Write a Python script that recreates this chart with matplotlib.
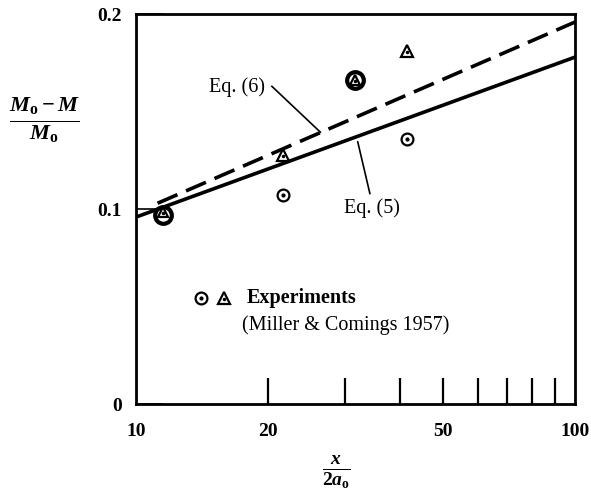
#!/usr/bin/env python3
import matplotlib
matplotlib.use("Agg")
import matplotlib.pyplot as plt
from matplotlib.ticker import FixedLocator, NullFormatter, FixedFormatter

# experiments (Miller & Comings 1957)
CIRCLE_X = [11.5, 21.6, 31.5, 41.4]
CIRCLE_Y = [0.097, 0.107, 0.166, 0.136]
TRI_X = [11.5, 21.6, 31.5, 41.4]
TRI_Y = [0.0985, 0.128, 0.166, 0.181]

# theory lines (straight in log x)
EQ5_X = [10, 100]
EQ5_Y = [0.0959, 0.178]
EQ6_X = [11.2, 100]
EQ6_Y = [0.103, 0.196]

XTICK_LABELS = [10, 20, 50, 100]
XTICK_MARKS = [20, 30, 40, 50, 60, 70, 80, 90]
YTICKS = [0, 0.1, 0.2]

plt.rcParams.update({
    "font.family": "Liberation Serif",
    "font.weight": "bold",
    "font.size": 14,
    "mathtext.fontset": "custom",
    "mathtext.it": "Liberation Serif:italic:bold",
    "mathtext.rm": "Liberation Serif:bold",
    "mathtext.bf": "Liberation Serif:bold",
})

fig = plt.figure(figsize=(5.91, 5.01), dpi=100)
ax = fig.add_axes([0.230, 0.1936, 0.743, 0.778])
ax.set_xscale("log")
ax.set_xlim(10, 100)
ax.set_ylim(0, 0.2)

ax.plot(EQ5_X, EQ5_Y, color="black", lw=2.6, solid_capstyle="butt")
ax.plot(EQ6_X, EQ6_Y, color="black", lw=2.6, dashes=(6, 2.6))

# data markers; the two overlapping points get a heavy circle
big = [0, 2]
for i, (x, y) in enumerate(zip(CIRCLE_X, CIRCLE_Y)):
    if i in big:
        ax.plot(x, y, "o", ms=12, mfc="white", mec="black", mew=3.0, zorder=4)
    else:
        ax.plot(x, y, "o", ms=8.5, mfc="white", mec="black", mew=1.6, zorder=4)
        ax.plot(x, y, "o", ms=2, color="black", zorder=5)
for i, (x, y) in enumerate(zip(TRI_X, TRI_Y)):
    ms = 6.5 if i in big else 8.5
    ax.plot(x, y, "^", ms=ms, mfc="white", mec="black", mew=1.6, zorder=6)
    ax.plot(x, y - 0.0005, "o", ms=1.5, color="black", zorder=7)

# key
ax.plot(14.1, 0.0545, "o", ms=8.5, mfc="white", mec="black", mew=1.6)
ax.plot(14.1, 0.0545, "o", ms=2, color="black")
ax.plot(15.9, 0.0545, "^", ms=8.5, mfc="white", mec="black", mew=1.6)
ax.plot(15.9, 0.054, "o", ms=1.5, color="black")
ax.text(17.9, 0.0545, "Experiments", ha="left", va="center", fontsize=14.5,
        fontweight="bold")
ax.text(17.4, 0.0405, "(Miller & Comings 1957)", ha="left", va="center",
        fontsize=14.5, fontweight="normal")

# equation labels with leader lines
ax.text(17.0, 0.1625, "Eq. (6)", ha="center", va="center", fontsize=14.5,
        fontweight="normal")
ax.plot([20.4, 26.3], [0.163, 0.1395], color="black", lw=1.2)
ax.text(34.5, 0.1005, "Eq. (5)", ha="center", va="center", fontsize=14.5,
        fontweight="normal")
ax.plot([32.0, 34.1], [0.1345, 0.108], color="black", lw=1.2)

# ticks: labels without marks, marks inside the frame
ax.xaxis.remove_overlapping_locs = False
ax.xaxis.set_major_locator(FixedLocator(XTICK_LABELS))
ax.xaxis.set_major_formatter(FixedFormatter([str(v) for v in XTICK_LABELS]))
ax.xaxis.set_minor_locator(FixedLocator(XTICK_MARKS))
ax.xaxis.set_minor_formatter(NullFormatter())
ax.tick_params(axis="x", which="major", length=0, pad=14, labelsize=14)
ax.tick_params(axis="x", which="minor", direction="in", length=19, width=1.6,
               top=False)
ax.set_yticks(YTICKS)
ax.set_yticklabels(["0", "0.1", "0.2"])
ax.tick_params(axis="y", direction="in", length=20, width=1.2, pad=10,
               right=False, labelsize=14)
for lab in ax.get_xticklabels() + ax.get_yticklabels():
    lab.set_fontweight("bold")

for s in ax.spines.values():
    s.set_linewidth(2.0)

fig.text(0.075, 0.760, r"$\frac{M_\mathrm{o} - M}{M_\mathrm{o}}$", ha="center",
         va="center", fontsize=23)
fig.text(0.569, 0.056, r"$\frac{x}{2a_\mathrm{o}}$", ha="center",
         va="center", fontsize=20)

fig.savefig("out.png", dpi=100)
